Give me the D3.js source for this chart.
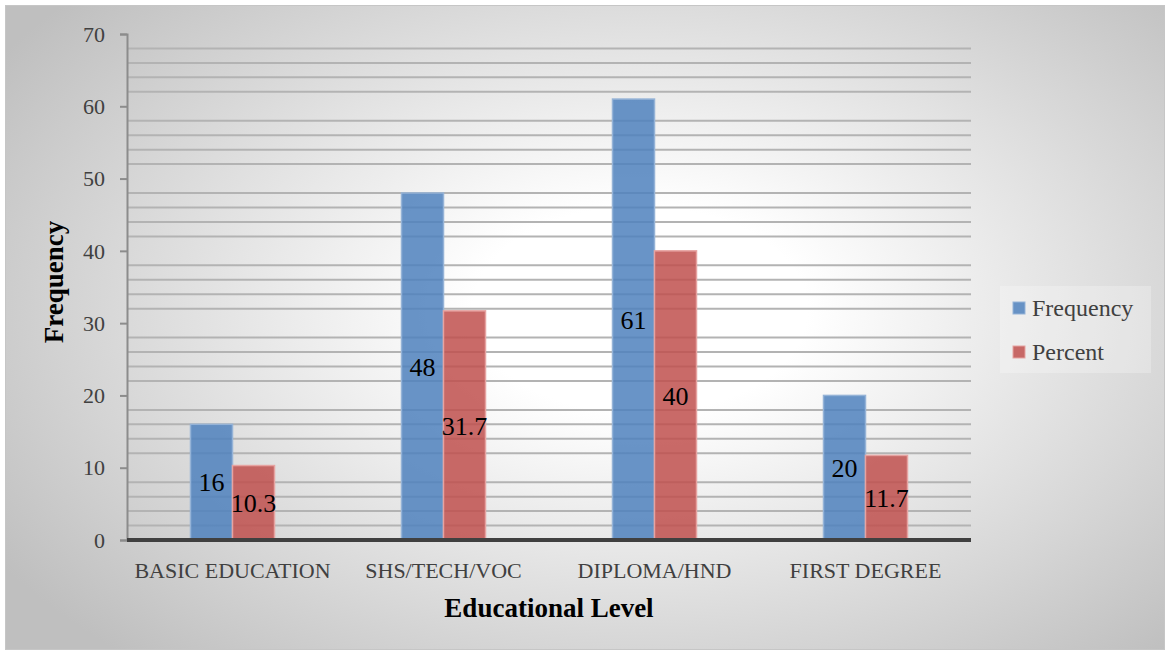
<!DOCTYPE html>
<meta charset="utf-8">
<style>
body { margin: 0; background: #fff; }
text { font-family: "Liberation Serif", "DejaVu Serif", serif; }
.tick text { fill: #404040; font-size: 22px; }
</style>

<svg id="chart" width="1166" height="651"></svg>

<script src="https://cdnjs.cloudflare.com/ajax/libs/d3/7.8.5/d3.min.js"></script>
<script>
var categories = ["BASIC EDUCATION", "SHS/TECH/VOC", "DIPLOMA/HND", "FIRST DEGREE"];
var seriesNames = ["Frequency", "Percent"];
var frequency = [16, 48, 61, 20];
var percent = [10.3, 31.7, 40, 11.7];
var yTicks = [0, 10, 20, 30, 40, 50, 60, 70];

var colors = {Frequency: "#4f81bd", Percent: "#c0504d"},
    strokes = {Frequency: "#95b3d7", Percent: "#e6a3a1"};

var svg = d3.select("#chart"),
    margin = {top: 34, right: 195, bottom: 111, left: 127},
    width = 971 - margin.left,
    height = 540 - margin.top;

// background panel, elliptical grey-to-white gradient
var defs = svg.append("defs");
var grad = defs.append("radialGradient")
    .attr("id", "bg")
    .attr("gradientUnits", "userSpaceOnUse")
    .attr("cx", 0).attr("cy", 0).attr("r", 1)
    .attr("gradientTransform", "translate(640,310) scale(760,470)");
grad.append("stop").attr("offset", "0").attr("stop-color", "#ffffff");
grad.append("stop").attr("offset", "0.22").attr("stop-color", "#ffffff");
grad.append("stop").attr("offset", "1").attr("stop-color", "#bfbfbf");

svg.append("rect")
    .attr("x", 5.5).attr("y", 5.5)
    .attr("width", 1159).attr("height", 644)
    .attr("fill", "url(#bg)")
    .attr("stroke", "#c6c6c6")
    .attr("stroke-width", 1);

var g = svg.append("g").attr("transform", "translate(" + margin.left + "," + margin.top + ")");

var x0 = d3.scaleBand().domain(categories).range([0, width]).padding(0);
var x1 = d3.scaleBand().domain(seriesNames).range([0, 84]);
var y = d3.scaleLinear().domain([0, 70]).range([height, 0]);

// minor gridlines every 2 (majors are not drawn in the original)
var minor = d3.range(2, 70, 2).filter(function(v) { return v % 10 !== 0; });
g.append("g").selectAll("line")
    .data(minor)
  .enter().append("line")
    .attr("x1", 0).attr("x2", width)
    .attr("y1", function(d) { return y(d); })
    .attr("y2", function(d) { return y(d); })
    .attr("stroke", "#b3b3b3")
    .attr("stroke-width", 2);

// y axis
var yAxis = g.append("g")
    .call(d3.axisLeft(y).tickValues(yTicks).tickSize(7).tickPadding(15));
yAxis.select(".domain").attr("stroke", "#8c8c8c").attr("stroke-width", 2);
yAxis.selectAll(".tick line").attr("stroke", "#8c8c8c").attr("stroke-width", 2);
yAxis.selectAll(".tick text").attr("dy", "0.33em");

// bars
var rows = categories.map(function(c, i) {
  return {cat: c, values: [{key: "Frequency", value: frequency[i]}, {key: "Percent", value: percent[i]}]};
});

var group = g.selectAll(".grp")
    .data(rows)
  .enter().append("g")
    .attr("class", "grp")
    .attr("transform", function(d) { return "translate(" + (x0(d.cat) + x0.bandwidth() / 2 - 42) + ",0)"; });

group.selectAll("rect")
    .data(function(d) { return d.values; })
  .enter().append("rect")
    .attr("x", function(d) { return x1(d.key); })
    .attr("y", function(d) { return y(d.value); })
    .attr("width", x1.bandwidth())
    .attr("height", function(d) { return height - y(d.value); })
    .attr("fill", function(d) { return colors[d.key]; })
    .attr("fill-opacity", 0.85)
    .attr("stroke", function(d) { return strokes[d.key]; })
    .attr("stroke-width", 1.5);

group.selectAll(".lbl")
    .data(function(d) { return d.values; })
  .enter().append("text")
    .attr("class", "lbl")
    .attr("x", function(d) { return x1(d.key) + x1.bandwidth() / 2; })
    .attr("y", function(d) { return (y(d.value) + height) / 2; })
    .attr("dy", "0.35em")
    .attr("text-anchor", "middle")
    .style("font-size", "26px")
    .attr("fill", "#000")
    .text(function(d) { return d.value; });

// baseline
g.append("line")
    .attr("x1", 0).attr("x2", width)
    .attr("y1", height).attr("y2", height)
    .attr("stroke", "#404040")
    .attr("stroke-width", 4);

// category labels
var xAxis = g.append("g")
    .attr("transform", "translate(0," + height + ")")
    .call(d3.axisBottom(x0).tickSize(0).tickPadding(22));
xAxis.select(".domain").remove();

// axis titles
g.append("text")
    .attr("x", 549 - margin.left)
    .attr("y", 617 - margin.top)
    .attr("text-anchor", "middle")
    .style("font-size", "27px")
    .style("font-weight", "bold")
    .text("Educational Level");

g.append("text")
    .attr("transform", "translate(" + (63 - margin.left) + "," + (282 - margin.top) + ") rotate(-90)")
    .attr("text-anchor", "middle")
    .style("font-size", "27px")
    .style("font-weight", "bold")
    .text("Frequency");

// legend
var legend = svg.append("g").attr("transform", "translate(1000,286)");
legend.append("rect")
    .attr("width", 151).attr("height", 87)
    .attr("fill", "#ffffff").attr("fill-opacity", 0.25);

var item = legend.selectAll(".item")
    .data(seriesNames)
  .enter().append("g")
    .attr("class", "item")
    .attr("transform", function(d, i) { return "translate(13," + (16 + i * 44) + ")"; });

item.append("rect")
    .attr("width", 12).attr("height", 12)
    .attr("fill", function(d) { return colors[d]; })
    .attr("fill-opacity", 0.85)
    .attr("stroke", function(d) { return strokes[d]; });

item.append("text")
    .attr("x", 19).attr("y", 6)
    .attr("dy", "0.35em")
    .style("font-size", "24px")
    .attr("fill", "#404040")
    .text(function(d) { return d; });
</script>
